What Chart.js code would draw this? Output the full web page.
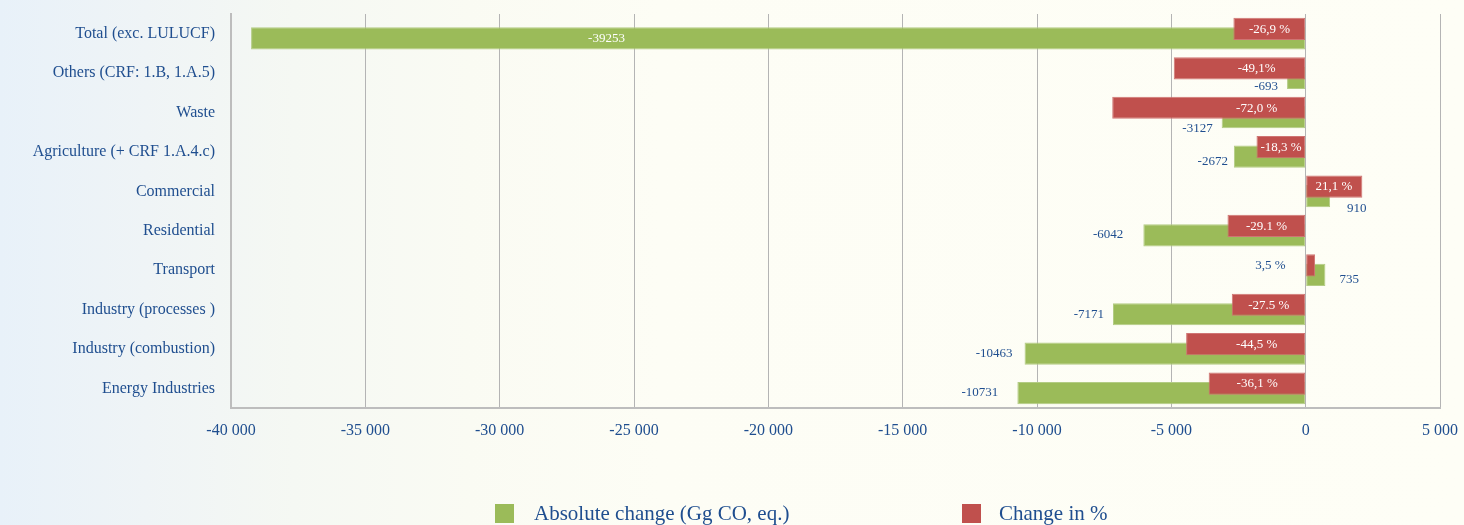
<!DOCTYPE html>
<html>
<head>
<meta charset="utf-8">
<title>Change in emissions by sector</title>
<script src="https://cdn.jsdelivr.net/npm/chart.js@4.4.1/dist/chart.umd.min.js"></script>
<style>
  html, body { margin: 0; padding: 0; width: 1464px; height: 525px; overflow: hidden; }
  body {
    background: linear-gradient(to right, #e8f1f9 0%, #eff4f6 10%, #f5f8f3 20%, #fafbf3 32%, #fdfdf5 45%, #fefef6 100%);
    font-family: "Liberation Serif", "Times New Roman", serif;
  }
  #wrap { position: relative; width: 1464px; height: 525px; }
  #chart { position: absolute; left: 0; top: 0; }
  .key { position: absolute; top: 504px; width: 19px; height: 19px; }
  .key-text { position: absolute; top: 503px; font-size: 21px; line-height: 21px; color: #1f4e8f; white-space: nowrap; }
</style>
</head>
<body>
<div id="wrap">
  <canvas id="chart" width="1464" height="525"></canvas>
  <div class="key" style="left:495px;background:#9BBB59"></div>
  <div class="key-text" style="left:534px">Absolute change (Gg CO, eq.)</div>
  <div class="key" style="left:962px;background:#C0504D"></div>
  <div class="key-text" style="left:999px">Change in %</div>
</div>
<script>
// Sectors, top to bottom
const categories = [
  'Total (exc. LULUCF)',
  'Others (CRF: 1.B, 1.A.5)',
  'Waste',
  'Agriculture (+ CRF 1.A.4.c)',
  'Commercial',
  'Residential',
  'Transport',
  'Industry (processes )',
  'Industry (combustion)',
  'Energy Industries'
];

// Absolute change, Gg CO2 eq.
const absoluteChange = [-39253, -693, -3127, -2672, 910, -6042, 735, -7171, -10463, -10731];

// Relative change, %
const percentChange = [-26.9, -49.1, -72.0, -18.3, 21.1, -29.1, 3.5, -27.5, -44.5, -36.1];
const percentLabels = ['-26,9 %', '-49,1%', '-72,0 %', '-18,3 %', '21,1 %', '-29.1 %', '3,5 %', '-27.5 %', '-44,5 %', '-36,1 %'];

// Value axis ticks
const xTickValues = [-40000, -35000, -30000, -25000, -20000, -15000, -10000, -5000, 0, 5000];

// Percent bars share the value axis: 1 % is drawn as 100 units
const PERCENT_SCALE = 100;

// Placement of the absolute-change labels (gap from bar end, vertical nudge)
const absLabelPlacement = [
  { inside: 0.663 },
  { gap: 9, dy: 9 },
  { gap: 9, dy: 11 },
  { gap: 6, dy: 5 },
  { gap: 17, dy: 13 },
  { gap: 20, dy: -1 },
  { gap: 14, dy: 5 },
  { gap: 9, dy: 0 },
  { gap: 12, dy: 0 },
  { gap: 19, dy: 0 }
];

const TEXT_BLUE = '#1f4e8f';
const FONT = '"Liberation Serif", "Times New Roman", serif';

function formatThousands(v) {
  const s = Math.abs(v).toString().replace(/\B(?=(\d{3})+(?!\d))/g, ' ');
  return (v < 0 ? '-' : '') + s;
}

// Scales keep no extra edge padding of their own; the layout padding sets the plot area
function clearScalePadding(scale) {
  scale.paddingTop = 0;
  scale.paddingBottom = 0;
  scale.paddingLeft = 0;
  scale.paddingRight = 0;
}

// Draws the value labels on and beside the bars
const valueLabels = {
  id: 'valueLabels',
  afterDatasetsDraw(chart) {
    const { ctx } = chart;
    const zero = chart.scales.x.getPixelForValue(0);
    const pctMeta = chart.getDatasetMeta(0);
    const absMeta = chart.getDatasetMeta(1);
    ctx.save();
    ctx.font = '13px ' + FONT;
    ctx.textBaseline = 'middle';

    pctMeta.data.forEach((bar, i) => {
      const len = bar.x - zero;
      if (Math.abs(len) < 30) {
        ctx.fillStyle = TEXT_BLUE;
        ctx.textAlign = 'right';
        ctx.fillText(percentLabels[i], zero - 20, bar.y);
        return;
      }
      const mid = (bar.x + zero) / 2;
      const cx = len < 0 ? Math.max(mid, zero - 49) : Math.min(mid, zero + 49);
      ctx.fillStyle = '#ffffff';
      ctx.textAlign = 'center';
      ctx.fillText(percentLabels[i], cx, bar.y + 0.5);
    });

    absMeta.data.forEach((bar, i) => {
      const p = absLabelPlacement[i];
      const text = String(absoluteChange[i]);
      if (p.inside !== undefined) {
        ctx.fillStyle = '#ffffff';
        ctx.textAlign = 'center';
        ctx.fillText(text, zero + (bar.x - zero) * p.inside, bar.y);
        return;
      }
      ctx.fillStyle = TEXT_BLUE;
      if (absoluteChange[i] < 0) {
        ctx.textAlign = 'right';
        ctx.fillText(text, bar.x - p.gap, bar.y + p.dy);
      } else {
        ctx.textAlign = 'left';
        ctx.fillText(text, bar.x + p.gap, bar.y + p.dy);
      }
    });
    ctx.restore();
  }
};

new Chart(document.getElementById('chart'), {
  type: 'bar',
  data: {
    labels: categories,
    datasets: [
      {
        label: 'Change in %',
        data: percentChange.map(p => p * PERCENT_SCALE),
        backgroundColor: '#C0504D',
        borderColor: '#cf7573',
        borderWidth: 1,
        borderSkipped: false
      },
      {
        label: 'Absolute change (Gg CO, eq.)',
        data: absoluteChange,
        backgroundColor: '#9BBB59',
        borderColor: '#b3cc84',
        borderWidth: 1,
        borderSkipped: false
      }
    ]
  },
  options: {
    indexAxis: 'y',
    responsive: false,
    animation: false,
    events: [],
    layout: { padding: { top: 14, right: 24, bottom: 77, left: 0 } },
    datasets: { bar: { categoryPercentage: 0.482, barPercentage: 2.34 } },
    scales: {
      x: {
        min: -40000,
        max: 5000,
        afterBuildTicks(scale) { scale.ticks = xTickValues.map(v => ({ value: v })); },
        afterFit(scale) { scale.height = 40; clearScalePadding(scale); },
        ticks: {
          color: TEXT_BLUE,
          font: { family: FONT, size: 16 },
          padding: 13,
          maxRotation: 0,
          callback: v => formatThousands(v)
        },
        grid: { color: '#b4b4b4', lineWidth: 1, drawTicks: false },
        border: { color: '#bdbdbd', width: 2 }
      },
      y: {
        afterFit(scale) { scale.width = 231; clearScalePadding(scale); },
        ticks: {
          color: TEXT_BLUE,
          font: { family: FONT, size: 16 },
          padding: 16
        },
        grid: { display: false, drawTicks: false },
        border: { color: '#bdbdbd', width: 2 }
      }
    },
    plugins: {
      legend: { display: false },
      tooltip: { enabled: false }
    }
  },
  plugins: [valueLabels]
});
</script>
</body>
</html>
